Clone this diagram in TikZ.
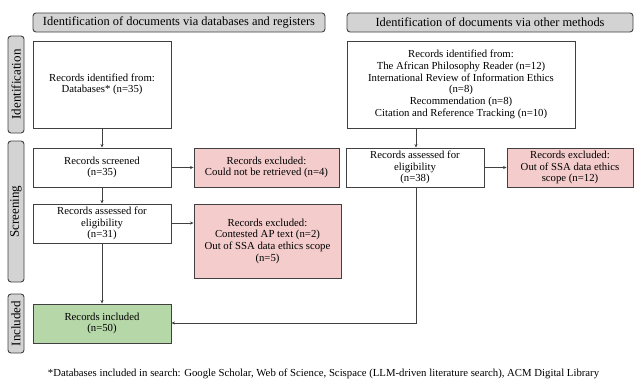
\documentclass[tikz,border=0pt]{standalone}
\usepackage{fontspec}
\setmainfont{Liberation Serif}
\usetikzlibrary{arrows.meta}
\definecolor{edge}{HTML}{404040}
\definecolor{pinkfill}{HTML}{F4CCCC}
\definecolor{greenfill}{HTML}{B6D7A8}
\definecolor{grayfill}{HTML}{D3D3D3}
\tikzset{
  box/.style={draw=edge, line width=0.9pt, fill=white, rectangle, align=center, inner sep=2pt, font=\fontsize{10.75}{11.7}\selectfont},
  pinkbox/.style={box, fill=pinkfill},
  greenbox/.style={box, fill=greenfill},
  hdr/.style={draw=edge, line width=0.9pt, fill=grayfill, rounded corners=3pt, align=center, inner sep=0pt, font=\fontsize{12.4}{14}\selectfont},
  side/.style={draw=edge, line width=0.9pt, fill=grayfill, rounded corners=3pt, align=center, inner sep=0pt, rotate=90, font=\fontsize{13}{14}\selectfont},
  conn/.style={draw=edge, line width=0.8pt, -{Stealth[length=3.5pt,width=3pt]}},
}
\begin{document}
\begin{tikzpicture}[x=1pt,y=-1pt]
\useasboundingbox (0,0) rectangle (634,381);
% headers
\node[hdr, minimum width=292pt, minimum height=19pt] (h1) at (179,22.5) {Identification of documents via databases and registers};
\node[hdr, minimum width=286pt, minimum height=19pt] (h2) at (490,22.5) {Identification of documents via other methods};
% side labels
\node[side, minimum width=97pt, minimum height=16pt] (s1) at (16,84.5) {Identification};
\node[side, minimum width=141pt, minimum height=16pt] (s2) at (16,211.5) {Screening};
\node[side, minimum width=59pt, minimum height=16pt] (s3) at (16,323.5) {Included};
% left column
\node[box, minimum width=138pt, minimum height=87pt] (idL) at (102,84.5) {Records identified from:\\Databases* (n=35)};
\node[box, minimum width=138pt, minimum height=39pt] (scr) at (102,167.5) {Records screened\\(n=35)};
\node[pinkbox, minimum width=145pt, minimum height=39pt] (ex1) at (266.5,167.5) {Records excluded:\\Could not be retrieved (n=4)};
\node[box, minimum width=138pt, minimum height=39pt] (assL) at (102,223.5) {Records assessed for\\eligibility\\(n=31)};
\node[pinkbox, minimum width=147pt, minimum height=74pt] (ex2) at (267.5,241) {Records excluded:\\Contested AP text (n=2)\\Out of SSA data ethics scope\\(n=5)};
\node[greenbox, minimum width=138pt, minimum height=39pt] (inc) at (102,323.5) {Records included\\(n=50)};
% right column
\node[box, minimum width=228pt, minimum height=87pt] (idR) at (461,84.5) {Records identified from:\\The African Philosophy Reader (n=12)\\International Review of Information Ethics\\(n=8)\\Recommendation (n=8)\\Citation and Reference Tracking (n=10)};
\node[box, minimum width=138pt, minimum height=39pt] (assR) at (415,167.5) {Records assessed for\\eligibility\\(n=38)};
\node[pinkbox, minimum width=126pt, minimum height=39pt] (exR) at (570,167.5) {Records excluded:\\Out of SSA data ethics\\scope (n=12)};
\coordinate (corner) at (416,323);
% connectors
\draw[conn] (idL) -- (scr);
\draw[conn] (scr) -- (ex1);
\draw[conn] (scr) -- (assL);
\draw[conn] (assL.east |- 0,223) -- (ex2.west |- 0,223);
\draw[conn] (assL) -- (inc);
\draw[conn] (idR.south -| 416,0) -- (assR.north -| 416,0);
\draw[conn] (assR) -- (exR);
\draw[conn] (assR.south -| corner) -- (corner) -- (inc.east |- corner);
% footnote
\node[font=\fontsize{10.75}{12}\selectfont, inner sep=0pt] (foot) at (323.5,374) {*Databases included in search: Google Scholar, Web of Science, Scispace (LLM-driven literature search), ACM Digital Library};
\end{tikzpicture}
\end{document}
